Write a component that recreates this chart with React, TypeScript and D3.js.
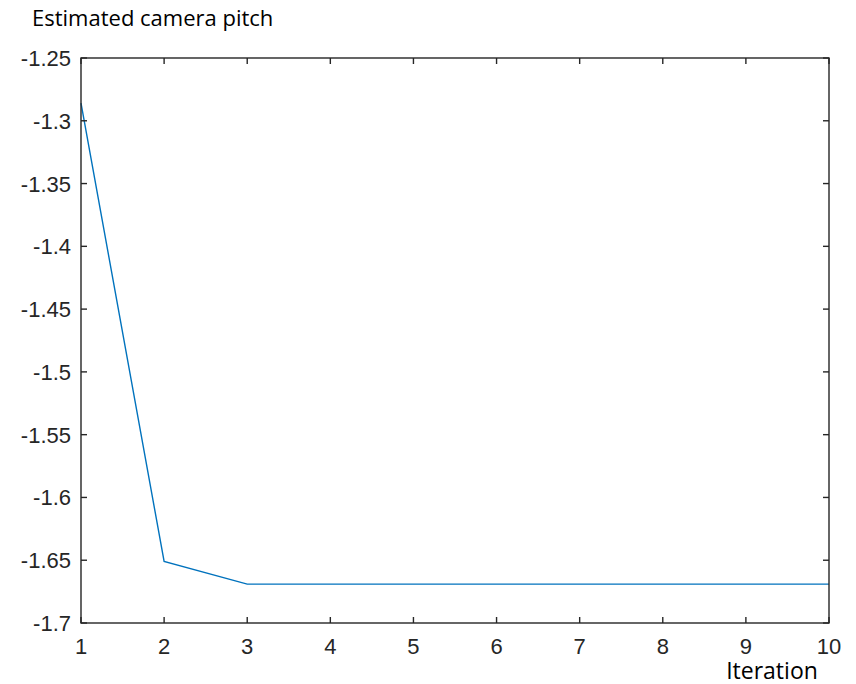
import React from "react";
import * as d3 from "d3";

const iterations = [1, 2, 3, 4, 5, 6, 7, 8, 9, 10];
const pitch = [-1.286, -1.651, -1.669, -1.669, -1.669, -1.669, -1.669, -1.669, -1.669, -1.669];
const yTicks = [-1.25, -1.3, -1.35, -1.4, -1.45, -1.5, -1.55, -1.6, -1.65, -1.7];
const xTicks = [1, 2, 3, 4, 5, 6, 7, 8, 9, 10];

const W = 856, H = 684;
const L = 81, R = 829, T = 58, B = 623;

export default function App() {
  const x = d3.scaleLinear().domain([1, 10]).range([L, R]);
  const y = d3.scaleLinear().domain([-1.7, -1.25]).range([B, T]);
  const line = d3.line<number>().x((_, i) => x(iterations[i])).y((d) => y(d));
  const axisColor = "#262626";
  const tickLen = 6;
  const tickFont = "'Liberation Sans', Arial, sans-serif";
  const labelFont = "'Open Sans', 'Noto Sans', sans-serif";
  return (
    <svg width={W} height={H} style={{ position: "absolute", left: 0, top: 0, background: "#fff" }}>
      <text x={32} y={26} fontFamily={labelFont} fontSize={22} fill="#000">
        Estimated camera pitch
      </text>
      <path d={line(pitch) || ""} fill="none" stroke="#0072BD" strokeWidth={1.4} />
      <rect x={L} y={T} width={R - L} height={B - T} fill="none" stroke={axisColor} strokeWidth={1.4} />
      {xTicks.map((t) => (
        <g key={"x" + t}>
          <line x1={x(t)} x2={x(t)} y1={B} y2={B - tickLen} stroke={axisColor} strokeWidth={1.4} />
          <line x1={x(t)} x2={x(t)} y1={T} y2={T + tickLen} stroke={axisColor} strokeWidth={1.4} />
          <text x={x(t)} y={B + 31} textAnchor="middle" fontFamily={tickFont} fontSize={22} fill={axisColor}>
            {t}
          </text>
        </g>
      ))}
      {yTicks.map((t) => (
        <g key={"y" + t}>
          <line x1={L} x2={L + tickLen} y1={y(t)} y2={y(t)} stroke={axisColor} strokeWidth={1.4} />
          <line x1={R} x2={R - tickLen} y1={y(t)} y2={y(t)} stroke={axisColor} strokeWidth={1.4} />
          <text x={71} y={y(t) + 8} textAnchor="end" fontFamily={tickFont} fontSize={22} fill={axisColor}>
            {String(t)}
          </text>
        </g>
      ))}
      <text x={772} y={679} textAnchor="middle" fontFamily={labelFont} fontSize={23} fill="#000">
        Iteration
      </text>
    </svg>
  );
}
